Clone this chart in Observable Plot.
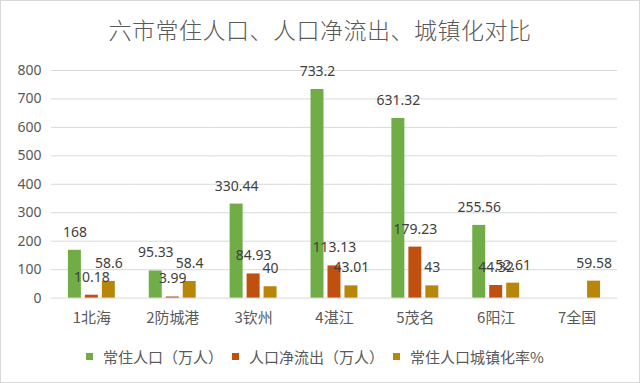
<!DOCTYPE html>
<html>
<head>
<meta charset="utf-8">
<script src="https://cdn.jsdelivr.net/npm/d3@7"></script>
<script src="https://cdn.jsdelivr.net/npm/@observablehq/plot@0.6"></script>
<style>
  html, body { margin: 0; padding: 0; background: #fff; }
  #wrap { position: relative; width: 640px; height: 383px; box-sizing: border-box; border: 1px solid #d9d9d9; overflow: hidden; font-family: "Noto Sans CJK SC", "Noto Sans", sans-serif; }
  #title { position: absolute; left: 0; top: 0; width: 638px; height: 56px; line-height: 56px; text-align: center; font-size: 23px; color: #595959; font-weight: 300; letter-spacing: 0.5px; }
  #chart { position: absolute; left: -1px; top: 54px; }
  #legend { position: absolute; left: 85px; top: 345px; display: flex; align-items: center; font-size: 15px; color: #595959; white-space: nowrap; }
  .item { display: flex; align-items: center; margin-right: 9px; }
  .sw { width: 7px; height: 7px; margin-right: 10px; }
</style>
</head>
<body>
<div id="wrap">
  <div id="title"></div>
  <div id="chart"></div>
  <div id="legend"></div>
</div>
<script>
const titleText = "六市常住人口、人口净流出、城镇化对比";
const categories = ["1北海", "2防城港", "3钦州", "4湛江", "5茂名", "6阳江", "7全国"];
const series = ["常住人口（万人）", "人口净流出（万人）", "常住人口城镇化率%"];
const population = [168, 95.33, 330.44, 733.2, 631.32, 255.56, null];
const netOutflow = [10.18, 3.99, 84.93, 113.13, 179.23, 44.32, null];
const urbanization = [58.6, 58.4, 40, 43.01, 43, 52.61, 59.58];
const colors = ["#70AD47", "#C0500F", "#B8870A"];
const yTicks = [0, 100, 200, 300, 400, 500, 600, 700, 800];

const valuesBySeries = [population, netOutflow, urbanization];
const rows = [];
categories.forEach((c, i) => {
  series.forEach((s, j) => {
    const v = valuesBySeries[j][i];
    if (v != null) rows.push({city: c, series: s, value: v});
  });
});

document.getElementById("title").textContent = titleText;

const chart = Plot.plot({
  width: 640,
  height: 284,
  marginTop: 15,
  marginBottom: 41,
  marginLeft: 49,
  marginRight: 21,
  style: {fontFamily: "'Noto Sans', 'Noto Sans CJK SC', sans-serif", color: "#595959", background: "transparent"},
  fx: {domain: categories, padding: 0, label: null},
  x: {domain: series, paddingInner: 0.222, paddingOuter: 0.875, axis: null},
  y: {domain: [0, 800], label: null},
  color: {domain: series, range: colors},
  marks: [
    Plot.gridY(yTicks, {stroke: "#d9d9d9", strokeOpacity: 1}),
    Plot.barY(rows, {fx: "city", x: "series", y: "value", fill: "series"}),
    Plot.text(rows, {fx: "city", x: "series", y: "value", text: d => String(d.value), dy: -18, fill: "#404040", fontSize: 14}),
    Plot.axisY(yTicks, {tickSize: 0, tickPadding: 10, fontSize: 14, label: null}),
    Plot.axisFx({anchor: "bottom", tickSize: 0, tickPadding: 14, fontSize: 15, label: null, fontFamily: "'Noto Sans CJK SC', sans-serif"})
  ]
});
document.getElementById("chart").appendChild(chart);

const legend = document.getElementById("legend");
series.forEach((s, j) => {
  const item = document.createElement("div");
  item.className = "item";
  const sw = document.createElement("span");
  sw.className = "sw";
  sw.style.background = colors[j];
  const t = document.createElement("span");
  t.textContent = s;
  item.appendChild(sw);
  item.appendChild(t);
  legend.appendChild(item);
});
</script>
</body>
</html>
